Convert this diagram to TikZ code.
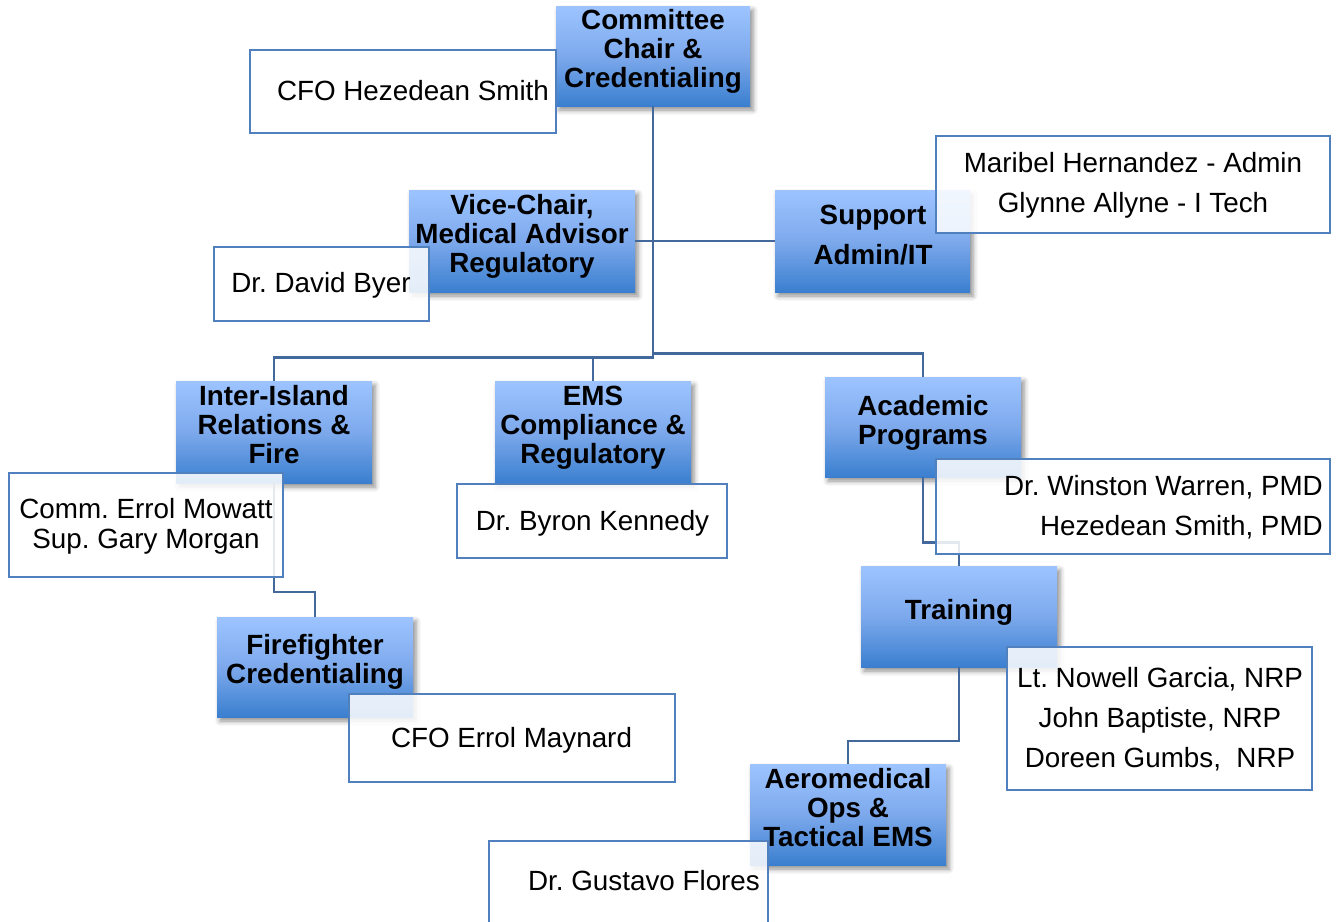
\documentclass[tikz,border=0pt]{standalone}
\usepackage{fontspec}
\setmainfont{Liberation Sans}
\usetikzlibrary{shadows.blur}
\frenchspacing
\definecolor{conn}{RGB}{67,104,155}
\definecolor{bord}{RGB}{80,128,190}
\definecolor{btop}{RGB}{157,196,255}
\definecolor{bmid}{RGB}{125,169,236}
\definecolor{bbot}{RGB}{58,127,207}
\begin{document}
\frenchspacing
\begin{tikzpicture}[x=1pt,y=-1pt,
  bluebox/.style={rectangle, inner sep=0pt, draw=none, top color=btop, bottom color=bbot, middle color=bmid,
    blur shadow={shadow xshift=3pt, shadow yshift=-4pt, shadow blur radius=5pt, shadow opacity=45}},
  whitebox/.style={rectangle, inner sep=0pt, draw=bord, line width=1.8pt, fill=white, fill opacity=0.86},
  connector/.style={draw=conn, line width=2.2pt},
  btext/.style={inner sep=0pt, align=center, font=\bfseries\fontsize{27.8}{29}\selectfont},
  btextw/.style={inner sep=0pt, align=center, font=\bfseries\fontsize{27.8}{40}\selectfont},
  wtext/.style={inner sep=0pt, align=center, font=\fontsize{27.8}{30}\selectfont},
  wtextw/.style={inner sep=0pt, align=center, font=\fontsize{27.8}{40}\selectfont}]
\useasboundingbox (0,0) rectangle (1337,921);
\clip (0,0) rectangle (1337,921);

% blue boxes
\node[bluebox, minimum width=194pt, minimum height=100pt] (chair) at (653,56) {};
\node[bluebox, minimum width=226pt, minimum height=102pt] (vice) at (522,241) {};
\node[bluebox, minimum width=195pt, minimum height=102pt] (support) at (872.5,241) {};
\node[bluebox, minimum width=196pt, minimum height=102pt] (inter) at (274,432) {};
\node[bluebox, minimum width=196pt, minimum height=102pt] (ems) at (593,432) {};
\node[bluebox, minimum width=196pt, minimum height=100pt] (acad) at (923,427) {};
\node[bluebox, minimum width=196pt, minimum height=100pt] (fire) at (315,667) {};
\node[bluebox, minimum width=196pt, minimum height=101pt] (train) at (959,616.5) {};
\node[bluebox, minimum width=196pt, minimum height=101pt] (aero) at (848,814.5) {};

% connectors
\coordinate (bl) at (653,357.5);
\coordinate (br) at (653,353.5);
\coordinate (ifk) at (274,592);
\coordinate (atk) at (923,542.5);
\coordinate (tak) at (959,741);
\draw[connector] (chair.south) -- (bl) -| (inter.north);
\draw[connector] (bl) -| (ems.north);
\draw[connector] (br) -| (acad.north);
\draw[connector] (vice.east) -- (support.west);
\draw[connector] (inter.south) -- (ifk) -| (fire.north);
\draw[connector] (acad.south) -- (atk) -| (train.north);
\draw[connector] (train.south) -- (tak) -| (aero.north);

% white boxes
\node[whitebox, minimum width=306pt, minimum height=83pt] (cfoh) at (403,91.5) {};
\node[whitebox, minimum width=215pt, minimum height=74pt] (byer) at (321.5,284) {};
\node[whitebox, minimum width=394pt, minimum height=97pt] (mari) at (1133,184.5) {};
\node[whitebox, minimum width=274pt, minimum height=104pt] (comm) at (146,525) {};
\node[whitebox, minimum width=326pt, minimum height=88pt] (mayn) at (512,738) {};
\node[whitebox, minimum width=270pt, minimum height=74pt] (kenn) at (592,521) {};
\node[whitebox, minimum width=394pt, minimum height=95pt] (wins) at (1133,506.5) {};
\node[whitebox, minimum width=305pt, minimum height=143pt] (ltn) at (1159.5,718.5) {};
\node[whitebox, minimum width=279pt, minimum height=120pt] (gust) at (628.5,901) {};

% blue box texts
\node[btext] (chairT) at (653,52.5) {\strut Committee\\Chair \&\\Credentialing\strut};
\node[btext] (viceT) at (522,238) {\strut Vice-Chair,\\Medical Advisor\\Regulatory\strut};
\node[btextw] (supportT) at (873,236) {\strut Support\\Admin/IT\strut};
\node[btext] (interT) at (274,428.5) {\strut Inter-Island\\Relations \&\\Fire\strut};
\node[btext] (emsT) at (593,429) {\strut EMS\\Compliance \&\\Regulatory\strut};
\node[btext] (acadT) at (923,424.5) {\strut Academic\\Programs\strut};
\node[btext] (fireT) at (315,663) {\strut Firefighter\\Credentialing\strut};
\node[btext] (trainT) at (959,614) {\strut Training};
\node[btext] (aeroT) at (848,811.5) {\strut Aeromedical\\Ops \&\\Tactical EMS\strut};

% white box texts
\node[wtext] (cfohT) at (413,94.85) {\strut CFO Hezedean Smith};
\node[wtext] (byerT) at (321,286.85) {\strut Dr. David Byer};
\node[wtextw] (mariT) at (1133,184.85) {\strut Maribel Hernandez - Admin\\Glynne Allyne - I Tech\strut};
\node[wtext] (commT) at (146,527.85) {\strut Comm. Errol Mowatt\\Sup. Gary Morgan\strut};
\node[wtext] (maynT) at (511.5,741.85) {\strut CFO Errol Maynard};
\node[wtext] (kennT) at (592.5,524.85) {\strut Dr. Byron Kennedy};
\node[wtextw, align=right, anchor=east] (winsT) at (1323,507.85) {\strut Dr. Winston Warren, PMD\\Hezedean Smith, PMD\strut};
\node[wtextw] (ltnT) at (1160,719.85) {\strut Lt. Nowell Garcia, NRP\\John Baptiste, NRP\\Doreen Gumbs,\ \ NRP\strut};
\node[wtext] (gustT) at (644,884.85) {\strut Dr. Gustavo Flores};
\end{tikzpicture}
\end{document}
